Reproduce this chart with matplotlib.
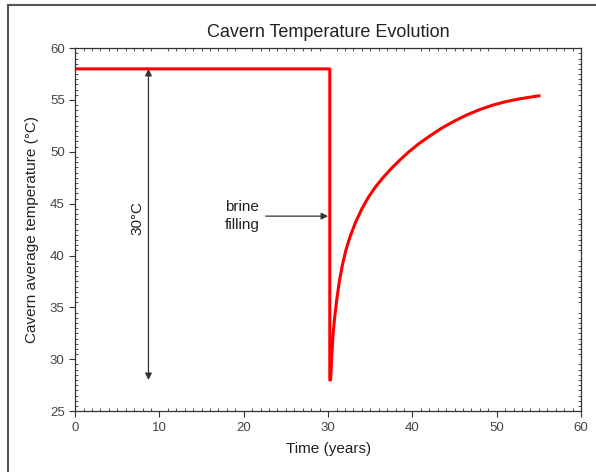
import numpy as np
import matplotlib.pyplot as plt
from matplotlib.lines import Line2D
from matplotlib.ticker import MultipleLocator

plt.rcParams['font.family'] = ['Liberation Sans', 'DejaVu Sans']

# data
t_before = [0.0, 30.2, 30.2]
T_before = [58.0, 58.0, 28.0]

t_after = [30.3, 30.45, 30.6, 30.75, 31.0, 31.35, 31.7, 32.1, 32.6, 33.2,
           34.0, 34.8, 35.6, 36.5, 37.5, 38.5, 39.5, 40.7, 42.0, 43.5,
           45.0, 46.5, 48.0, 49.5, 51.0, 52.5, 54.0, 55.0]
T_after = [28.0, 30.5, 32.5, 33.8, 35.6, 37.6, 39.1, 40.5, 41.8, 43.1,
           44.5, 45.65, 46.6, 47.5, 48.4, 49.2, 49.95, 50.75, 51.5, 52.3,
           52.98, 53.58, 54.08, 54.5, 54.83, 55.08, 55.28, 55.4]

xticks = [0, 10, 20, 30, 40, 50, 60]
yticks = [25, 30, 35, 40, 45, 50, 55, 60]

fig = plt.figure(figsize=(5.96, 4.72), dpi=100)
ax = fig.add_axes([0.126, 0.129, 0.849, 0.769])

ax.plot(t_before + t_after, T_before + T_after, color='#ff0000', lw=2.2,
        solid_joinstyle='round')

ax.set_xlim(0, 60)
ax.set_ylim(25, 60)
ax.set_xticks(xticks)
ax.set_yticks(yticks)
ax.xaxis.set_minor_locator(MultipleLocator(1))
ax.yaxis.set_minor_locator(MultipleLocator(0.5))
ax.tick_params(which='major', direction='out', length=4, width=0.8,
               colors='#333333', labelsize=9.5, labelcolor='#444444')
ax.tick_params(which='minor', direction='in', length=2.5, width=0.6,
               top=True, right=True, colors='#333333')
for s in ax.spines.values():
    s.set_color('#333333')
    s.set_linewidth(0.9)

ax.set_title('Cavern Temperature Evolution', fontsize=13, color='#222222', pad=8)
ax.set_xlabel('Time (years)', fontsize=11, color='#222222', labelpad=6)
ax.set_ylabel('Cavern average temperature (°C)', fontsize=11, color='#222222', labelpad=8)

# 30°C span arrow
ax.annotate('', xy=(8.7, 58.0), xytext=(8.7, 28.0),
            arrowprops=dict(arrowstyle='<|-|>', color='#333333', lw=0.9,
                            mutation_scale=10, shrinkA=0, shrinkB=0))
ax.text(7.4, 43.6, '30°C', rotation=90, ha='center', va='center',
        fontsize=11, color='#222222')

# brine filling arrow
ax.annotate('', xy=(30.0, 43.8), xytext=(22.6, 43.8),
            arrowprops=dict(arrowstyle='-|>', color='#333333', lw=0.9,
                            mutation_scale=10, shrinkA=0, shrinkB=0))
ax.text(19.8, 43.8, 'brine\nfilling', ha='center', va='center',
        fontsize=11, color='#222222', linespacing=1.3)

# screenshot frame
fig.add_artist(Line2D([0.013, 0.013], [0.0, 0.989], transform=fig.transFigure,
                      color='#555555', lw=1.5))
fig.add_artist(Line2D([0.013, 1.0], [0.989, 0.989], transform=fig.transFigure,
                      color='#555555', lw=1.5))

fig.savefig('out.png', dpi=100)
